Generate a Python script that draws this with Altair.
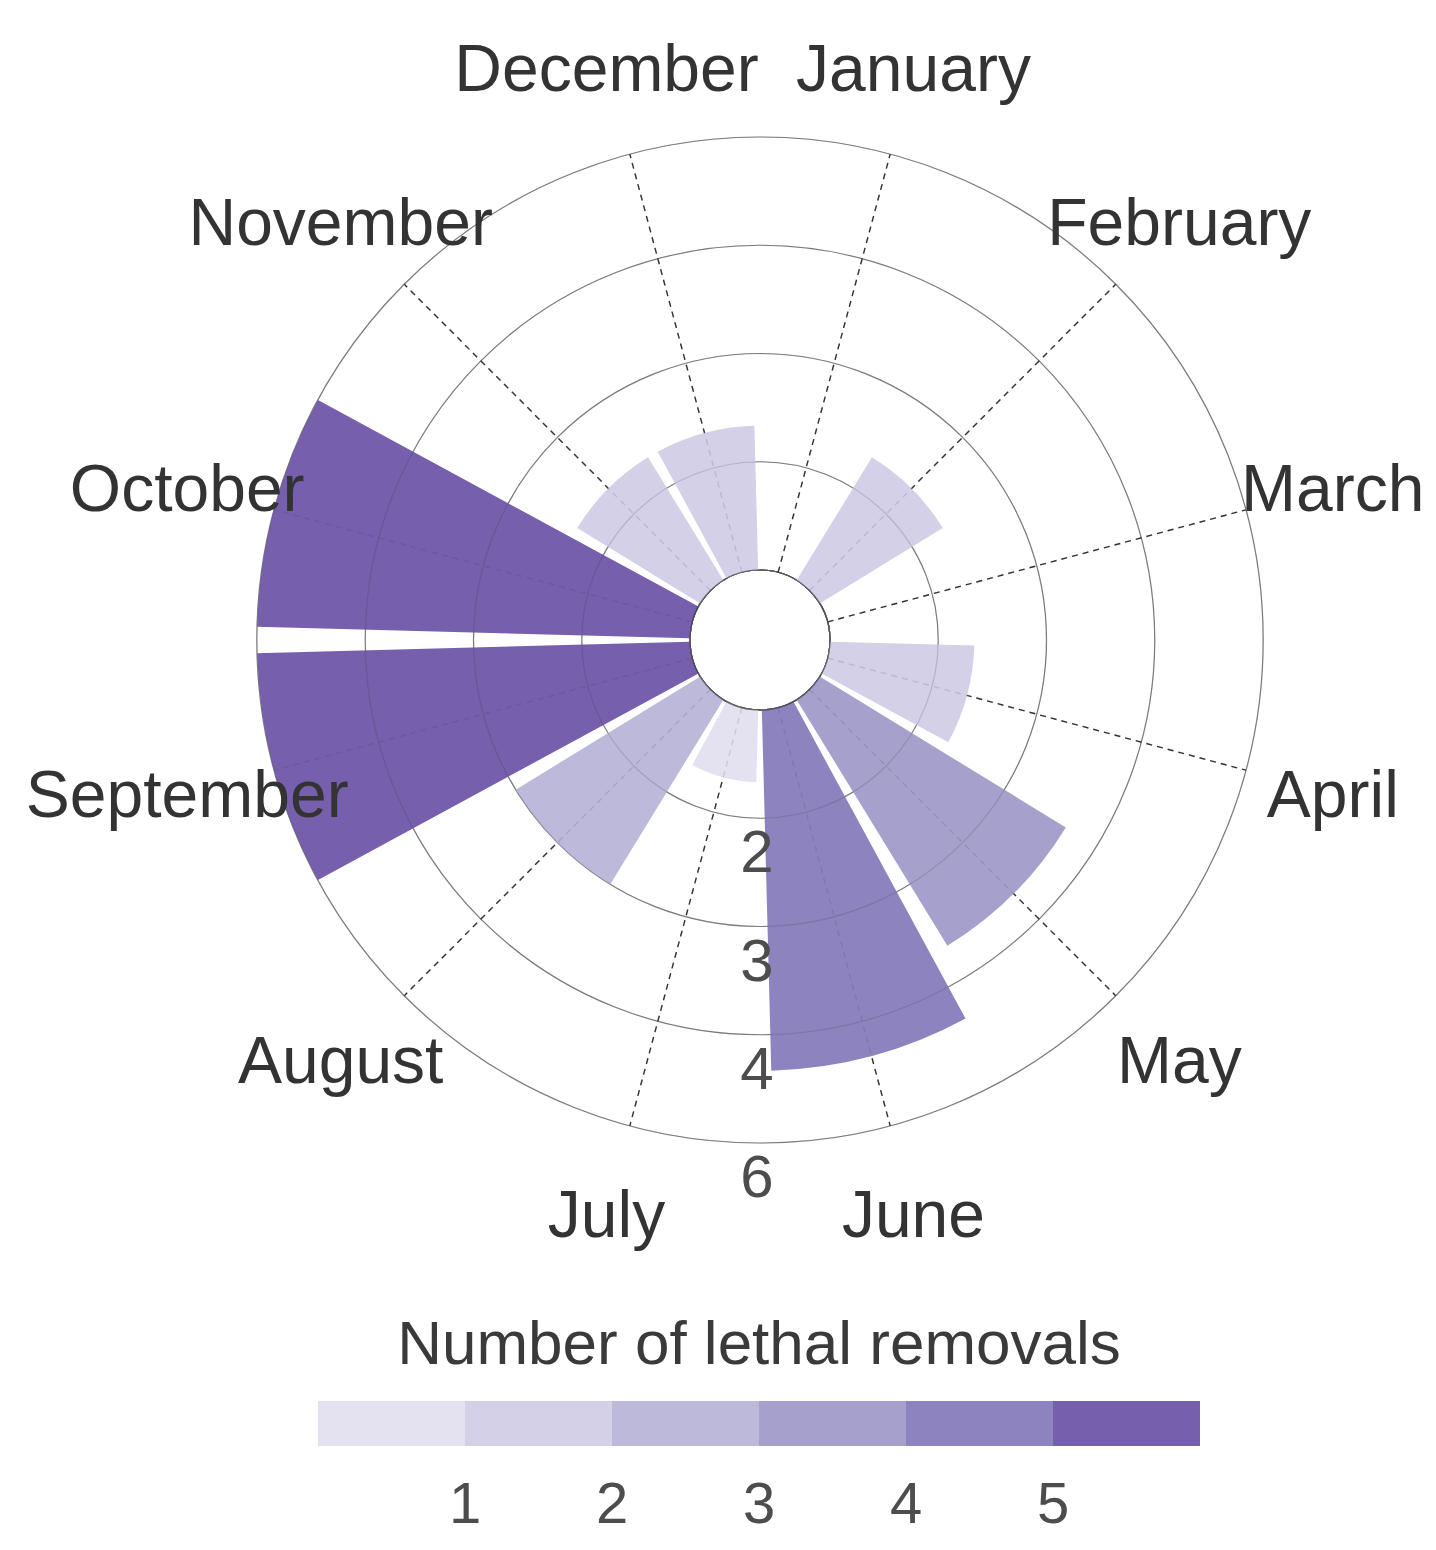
import math
import altair as alt
import pandas as pd

# ---------------- data ----------------
months = ["January", "February", "March", "April", "May", "June",
          "July", "August", "September", "October", "November", "December"]
removals = [0, 2, 0, 2, 4, 5, 1, 3, 6, 6, 2, 2]

grid_breaks = [0, 1.5, 3, 4.5, 6]
radial_breaks = [1.5, 3, 4.5, 6]
radial_labels = ["2", "3", "4", "6"]

legend_thresholds = [1.5, 2.5, 3.5, 4.5, 5.5]
legend_colors = ["#e4e2f1", "#d3d0e8", "#bdb9db", "#a6a0cc", "#8d84bf", "#765fad"]

# ---------------- layout ----------------
W, H = 1420, 1530
CX, CY = 752, 632          # centre of the polar panel inside the view
R_IN, R_OUT = 70, 503      # pixel radius for value 0 and value 6
BAR_WIDTH = 0.9
FONT = "Liberation Sans"

df = pd.DataFrame({"month": months, "idx": list(range(12)), "removals": removals})
df["t0"] = df["idx"] + (1 - BAR_WIDTH) / 2
df["t1"] = df["idx"] + (1 + BAR_WIDTH) / 2
df["tc"] = df["idx"] + 0.5

grid_df = pd.DataFrame({"g": grid_breaks})
spoke_df = pd.DataFrame({"tc": [i + 0.5 for i in range(12)]})
rad_df = pd.DataFrame({"r": radial_breaks, "label": radial_labels})

theta_scale = alt.Scale(type="linear", domain=[0, 12], range=[0, 2 * math.pi], zero=False, nice=False)
radius_scale = alt.Scale(type="linear", domain=[0, 6], range=[R_IN, R_OUT], zero=False, nice=False)
x_scale = alt.Scale(domain=[-CX, W - CX], zero=False, nice=False)
y_scale = alt.Scale(domain=[-(H - CY), CY], zero=False, nice=False)

cx = alt.X(datum=0, type="quantitative", scale=x_scale, axis=None)
cy = alt.Y(datum=0, type="quantitative", scale=y_scale, axis=None)


def circles(opacity, color):
    return alt.Chart(grid_df).mark_arc(
        filled=False, stroke=color, strokeWidth=1.2, strokeOpacity=opacity
    ).encode(
        x=cx, y=cy,
        theta=alt.Theta(datum=0, type="quantitative", scale=theta_scale, stack=False),
        theta2=alt.Theta2(datum=12),
        radius=alt.Radius("g:Q", scale=radius_scale, stack=False),
    )


def spokes(opacity):
    return (
        alt.Chart(spoke_df)
        .transform_calculate(a="datum.tc / 12 * 2 * PI")
        .transform_calculate(xa=f"{R_IN} * sin(datum.a)")
        .transform_calculate(ya=f"{R_IN} * cos(datum.a)")
        .transform_calculate(xb=f"{R_OUT} * sin(datum.a)")
        .transform_calculate(yb=f"{R_OUT} * cos(datum.a)")
        .mark_rule(stroke="#333333", strokeWidth=1.4, strokeDash=[6, 5], strokeOpacity=opacity)
        .encode(
            x=alt.X("xa:Q", scale=x_scale, axis=None),
            y=alt.Y("ya:Q", scale=y_scale, axis=None),
            x2="xb:Q",
            y2="yb:Q",
        )
    )


bars = (
    alt.Chart(df)
    .transform_filter("datum.removals > 0")
    .mark_arc()
    .encode(
        x=cx, y=cy,
        theta=alt.Theta("t0:Q", scale=theta_scale, stack=False),
        theta2="t1:Q",
        radius=alt.Radius("removals:Q", scale=radius_scale, stack=False),
        radius2=alt.Radius2(datum=0),
        color=alt.Color(
            "removals:Q",
            scale=alt.Scale(type="threshold", domain=legend_thresholds, range=legend_colors),
            legend=alt.Legend(
                type="gradient",
                orient="none",
                direction="horizontal",
                legendX=310,
                legendY=1307,
                padding=0,
                title="Number of lethal removals",
                titleFont=FONT,
                titleFontSize=62,
                titleFontWeight="normal",
                titleColor="#3a3a3a",
                titleAnchor="middle",
                titlePadding=24,
                titleLimit=2000,
                gradientLength=882,
                gradientThickness=45,
                gradientStrokeWidth=0,
                labelFont=FONT,
                labelFontSize=58,
                labelColor="#4d4d4d",
                labelOffset=31,
                labelOverlap=False,
                labelExpr="isFinite(datum.value) ? '' + floor(datum.value) : ''",
            ),
        ),
    )
)

month_labels = alt.Chart(df).mark_text(
    font=FONT, fontSize=66, color="#333333", align="center", baseline="middle",
    radiusOffset=90, dy=4,
).encode(
    x=cx, y=cy,
    theta=alt.Theta("tc:Q", scale=theta_scale, stack=False),
    radius=alt.Radius(datum=6, type="quantitative", scale=radius_scale, stack=False),
    text="month:N",
)

radial_text = alt.Chart(rad_df).mark_text(
    font=FONT, fontSize=60, color="#4d4d4d", align="center", baseline="middle",
    radiusOffset=32, dy=4, dx=-3,
).encode(
    x=cx, y=cy,
    theta=alt.Theta(datum=6, type="quantitative", scale=theta_scale, stack=False),
    radius=alt.Radius("r:Q", scale=radius_scale, stack=False),
    text="label:N",
)

chart = alt.layer(
    circles(1.0, "#8c8c8c"),
    spokes(1.0),
    bars,
    circles(0.18, "#333333"),
    spokes(0.15),
    month_labels,
    radial_text,
).properties(
    width=W, height=H, padding=0, background="white",
    autosize=alt.AutoSizeParams(type="none"),
).configure_view(strokeWidth=0, stroke="transparent")

chart.save("out.html", embed_options={"renderer": "svg", "actions": False})
